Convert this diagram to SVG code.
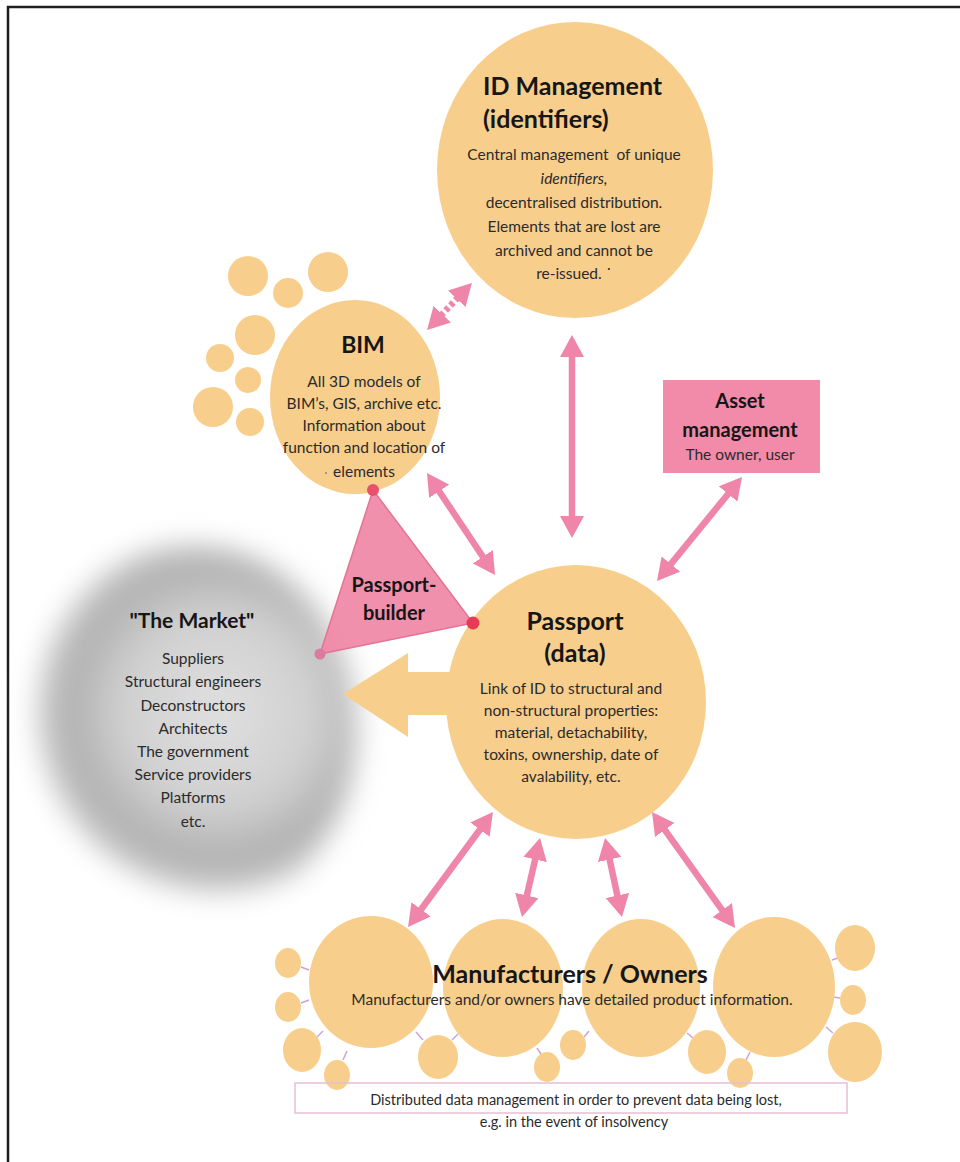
<svg xmlns="http://www.w3.org/2000/svg" width="960" height="1162" viewBox="0 0 960 1162">
  <style>
    .blob { fill: #f8ce8c; }
    .arrow { stroke: #ef86a9; stroke-width: 6.5; fill: none; marker-start: url(#head); marker-end: url(#head); }
    .tie { stroke: #c9a3d6; stroke-width: 1.5; }
    text { font-family: "Lato", "Liberation Sans", sans-serif; fill: #2b2b2b; text-anchor: middle; }
    text.left { text-anchor: start; }
    .title { font-weight: bold; fill: #161616; }
    .body { font-size: 15.5px; }
  </style>
  <defs>
    <marker id="head" viewBox="0 -12 22 24" markerUnits="userSpaceOnUse" markerWidth="22" markerHeight="24" refX="16" refY="0" orient="auto-start-reverse">
      <path d="M0,-12 L22,0 L0,12 Z" fill="#ef86a9"/>
    </marker>
    <radialGradient id="marketShade" gradientUnits="userSpaceOnUse" cx="218" cy="712" r="190">
      <stop offset="0" stop-color="#e0e0e0"/>
      <stop offset="0.5" stop-color="#d0d0d0"/>
      <stop offset="0.78" stop-color="#b0b0b0"/>
      <stop offset="0.92" stop-color="#c4c4c4"/>
      <stop offset="1" stop-color="#ffffff" stop-opacity="0"/>
    </radialGradient>
    <filter id="soft" x="-25%" y="-25%" width="150%" height="150%">
      <feGaussianBlur stdDeviation="14"/>
    </filter>
  </defs>

  <!-- page -->
  <rect x="0" y="0" width="960" height="1162" fill="#ffffff"/>
  <rect x="8" y="7" width="970" height="1180" fill="none" stroke="#1e1e1e" stroke-width="2.5"/>

  <!-- market cloud -->
  <g id="market">
    <ellipse cx="192" cy="730" rx="165" ry="185" fill="url(#marketShade)" filter="url(#soft)"/>
    <text class="title" x="192" y="628" font-size="21">"The Market"</text>
    <text class="body" x="193" y="664">Suppliers</text>
    <text class="body" x="193" y="687">Structural engineers</text>
    <text class="body" x="193" y="711">Deconstructors</text>
    <text class="body" x="193" y="734">Architects</text>
    <text class="body" x="193" y="757">The government</text>
    <text class="body" x="193" y="780">Service providers</text>
    <text class="body" x="193" y="803">Platforms</text>
    <text class="body" x="193" y="827">etc.</text>
  </g>

  <!-- flow from passport to market -->
  <g id="market-flow">
    <path class="blob" d="M343,694 L408,653 L408,672 L470,672 L470,715 L408,715 L408,737 Z"/>
  </g>

  <!-- ID management -->
  <g id="id-management">
    <ellipse class="blob" cx="575" cy="170" rx="138" ry="148"/>
    <text class="title left" x="483" y="95" font-size="25">ID Management</text>
    <text class="title left" x="483" y="128" font-size="25">(identifiers)</text>
    <text class="body" x="574" y="160" xml:space="preserve">Central management  of unique</text>
    <text class="body" x="574" y="184" font-style="italic">identifiers,</text>
    <text class="body" x="574" y="208">decentralised distribution.</text>
    <text class="body" x="574" y="232">Elements that are lost are</text>
    <text class="body" x="574" y="256">archived and cannot be</text>
    <text class="body" x="574" y="279">re-issued. ˙</text>
  </g>

  <!-- BIM with satellite models -->
  <g id="bim">
    <circle class="blob" cx="248" cy="276" r="20"/>
    <circle class="blob" cx="288" cy="293" r="15"/>
    <circle class="blob" cx="328" cy="272" r="20"/>
    <circle class="blob" cx="255" cy="335" r="20"/>
    <circle class="blob" cx="220" cy="358" r="14"/>
    <circle class="blob" cx="248" cy="380" r="13"/>
    <circle class="blob" cx="213" cy="407" r="20"/>
    <circle class="blob" cx="250" cy="422" r="14"/>
    <ellipse class="blob" cx="355" cy="397" rx="85" ry="97"/>
    <text class="title" x="363" y="353" font-size="23">BIM</text>
    <text class="body" x="364" y="387">All 3D models of</text>
    <text class="body" x="364" y="409">BIM’s, GIS, archive etc.</text>
    <text class="body" x="364" y="431">Information about</text>
    <text class="body" x="364" y="453">function and location of</text>
    <circle cx="326" cy="473" r="1" fill="#888"/>
    <text class="body" x="364" y="477">elements</text>
  </g>

  <!-- asset management -->
  <g id="asset-management">
    <rect x="663" y="380" width="157" height="93" fill="#f28aaa"/>
    <text class="title" x="740" y="408" font-size="20">Asset</text>
    <text class="title" x="740" y="437" font-size="20">management</text>
    <text class="body" x="740" y="460">The owner, user</text>
  </g>

  <!-- passport -->
  <g id="passport">
    <ellipse class="blob" cx="576" cy="702" rx="130" ry="137"/>
    <text class="title" x="575" y="630" font-size="25">Passport</text>
    <text class="title" x="575" y="662" font-size="25">(data)</text>
    <text class="body" x="571" y="694">Link of ID to structural and</text>
    <text class="body" x="571" y="716">non-structural properties:</text>
    <text class="body" x="571" y="738">material, detachability,</text>
    <text class="body" x="571" y="760">toxins, ownership, date of</text>
    <text class="body" x="571" y="782">avalability, etc.</text>
  </g>

  <!-- passport builder -->
  <g id="passport-builder">
    <polygon points="373,490 473,623 320,654" fill="#f08aa8" fill-opacity="0.95" stroke="#e57394" stroke-width="1.5"/>
    <circle cx="373" cy="490" r="6" fill="#e8506d"/>
    <circle cx="473" cy="623" r="6.5" fill="#e63a57"/>
    <circle cx="320" cy="654" r="5.5" fill="#d97c9f"/>
    <text class="title" x="394" y="592" font-size="20">Passport-</text>
    <text class="title" x="394" y="620" font-size="20">builder</text>
  </g>

  <!-- manufacturers / owners -->
  <g id="manufacturers">
    <g class="tie">
      <line x1="301" y1="967" x2="309" y2="970"/>
      <line x1="301" y1="1003" x2="309" y2="1000"/>
      <line x1="317" y1="1037" x2="323" y2="1031"/>
      <line x1="343" y1="1060" x2="347" y2="1051"/>
      <line x1="416" y1="1032" x2="423" y2="1040"/>
      <line x1="452" y1="1040" x2="458" y2="1034"/>
      <line x1="537" y1="1048" x2="541" y2="1054"/>
      <line x1="584" y1="1037" x2="589" y2="1031"/>
      <line x1="687" y1="1033" x2="693" y2="1038"/>
      <line x1="746" y1="1060" x2="750" y2="1052"/>
      <line x1="832" y1="960" x2="838" y2="958"/>
      <line x1="833" y1="997" x2="840" y2="998"/>
      <line x1="826" y1="1027" x2="833" y2="1033"/>
    </g>
    <ellipse class="blob" cx="288" cy="963" rx="13" ry="15"/>
    <ellipse class="blob" cx="288" cy="1007" rx="13" ry="15"/>
    <ellipse class="blob" cx="302" cy="1050" rx="19" ry="22"/>
    <ellipse class="blob" cx="337" cy="1075" rx="13" ry="15"/>
    <ellipse class="blob" cx="438" cy="1057" rx="20" ry="22"/>
    <ellipse class="blob" cx="547" cy="1067" rx="13" ry="15"/>
    <ellipse class="blob" cx="573" cy="1045" rx="13" ry="15"/>
    <ellipse class="blob" cx="707" cy="1052" rx="19" ry="22"/>
    <ellipse class="blob" cx="740" cy="1073" rx="13" ry="15"/>
    <ellipse class="blob" cx="855" cy="948" rx="20" ry="23"/>
    <ellipse class="blob" cx="853" cy="1000" rx="13" ry="15"/>
    <ellipse class="blob" cx="855" cy="1052" rx="27" ry="30"/>
    <ellipse class="blob" cx="371" cy="982" rx="62" ry="66"/>
    <ellipse class="blob" cx="503" cy="988" rx="60" ry="69"/>
    <ellipse class="blob" cx="641" cy="988" rx="59" ry="69"/>
    <ellipse class="blob" cx="774" cy="987" rx="61" ry="70"/>
    <text class="title" x="570" y="983" font-size="25">Manufacturers / Owners</text>
    <text class="body" x="572" y="1005">Manufacturers and/or owners have detailed product information.</text>
  </g>

  <!-- distributed storage note -->
  <g id="storage-note">
    <rect x="295" y="1083" width="552" height="30" fill="none" stroke="#e6bfd3" stroke-width="1.5"/>
    <text x="576" y="1105" font-size="14.5">Distributed data management in order to prevent data being lost,</text>
    <text x="574" y="1127" font-size="14.5">e.g. in the event of insolvency</text>
  </g>

  <!-- connectors -->
  <g id="connectors">
    <line class="arrow" x1="431.2" y1="325.7" x2="467.8" y2="287.3" stroke-dasharray="4 3"/>
    <line class="arrow" x1="572" y1="341" x2="572" y2="532"/>
    <line class="arrow" x1="430.3" y1="478" x2="491.7" y2="570"/>
    <line class="arrow" x1="738.2" y1="481.6" x2="660.8" y2="576.4"/>
    <line class="arrow" x1="489.4" y1="816.8" x2="411.6" y2="922.2"/>
    <line class="arrow" x1="538.7" y1="843.9" x2="523.3" y2="911.1"/>
    <line class="arrow" x1="606.3" y1="843.9" x2="620.7" y2="911.1"/>
    <line class="arrow" x1="655.5" y1="816.9" x2="731.5" y2="923.1"/>
  </g>
</svg>
